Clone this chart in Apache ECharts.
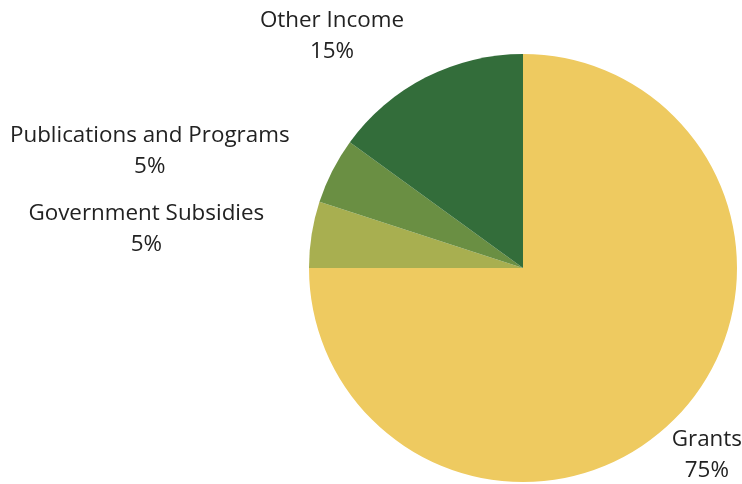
<!DOCTYPE html>
<html>
<head>
<meta charset="utf-8">
<script src="https://cdn.jsdelivr.net/npm/echarts@6/dist/echarts.min.js"></script>
<style>
html,body{margin:0;padding:0;background:#fff;}
#c{width:742px;height:484px;}
</style>
</head>
<body>
<div id="c"></div>
<script>
const categories = ['Grants', 'Government Subsidies', 'Publications and Programs', 'Other Income'];
const values = [75, 5, 5, 15];
const colors = ['#EECA60', '#A8AF50', '#6A8F43', '#336D3A'];

const chart = echarts.init(document.getElementById('c'), null, {renderer: 'canvas'});
const W = 742;
chart.setOption({
  animation: false,
  series: [{
    type: 'pie',
    center: [523, 268],
    radius: 214,
    startAngle: 90,
    clockwise: true,
    avoidLabelOverlap: false,
    data: categories.map((c, i) => ({name: c, value: values[i], itemStyle: {color: colors[i]}})),
    label: {
      show: true,
      position: 'outside',
      formatter: '{a|{b}}\n{a|{d}%}',
      distanceToLabelLine: 0,
      bleedMargin: 0,
      overflow: 'none',
      rich: {
        a: {
          align: 'center',
          fontFamily: 'Open Sans',
          fontSize: 22.4,
          lineHeight: 31,
          color: '#222'
        }
      }
    },
    labelLine: {show: false, length: 48, length2: 0},
    labelLayout: function (p) {
      const r = p.labelRect;
      const out = {dy: 2};
      if (r.x + r.width > W) out.dx = W - (r.x + r.width);
      return out;
    },
    emphasis: {disabled: true}
  }]
});
</script>
</body>
</html>
